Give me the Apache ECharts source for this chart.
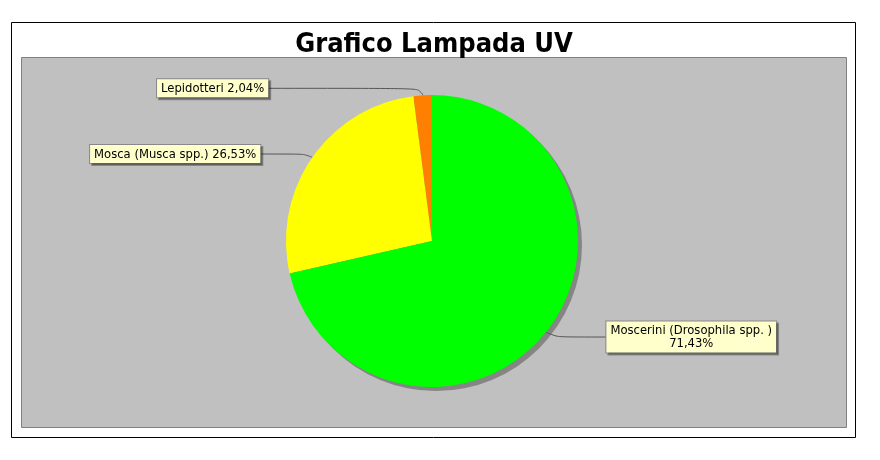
<!DOCTYPE html>
<html><head><meta charset="utf-8">
<script src="https://cdn.jsdelivr.net/npm/echarts@6/dist/echarts.min.js"></script>
<style>html,body{margin:0;padding:0;background:#fff}#c{width:880px;height:460px}</style>
</head><body><div id="c"></div>
<script>
const chartTitle = 'Grafico Lampada UV';
const categories = ['Lepidotteri', 'Mosca (Musca spp.)', 'Moscerini (Drosophila spp. )'];
const percentages = [2.04, 26.53, 71.43];
const sliceColors = ['#FF8000', '#FFFF00', '#00FF00'];
const labelTwoLines = [false, false, true];
// label line styling (radial length, horizontal length)
const lineLen = [7, 6, 8];
const lineLen2 = [154, 47, 54];

const chart = echarts.init(document.getElementById('c'), null, {renderer: 'canvas'});
const fmtPct = p => p.toFixed(2).replace('.', ',');
const pieCenter = [432, 241];
const pieRadius = 146;
const option = {
  animation: false,
  backgroundColor: '#ffffff',
  graphic: [
    {type: 'rect', silent: true, z: -10, shape: {x: 11.5, y: 22.5, width: 844, height: 415},
     style: {fill: '#ffffff', stroke: '#000000', lineWidth: 1}},
    {type: 'rect', silent: true, z: -9, shape: {x: 21.5, y: 57.5, width: 825, height: 370},
     style: {fill: '#C0C0C0', stroke: '#808080', lineWidth: 1}}
  ],
  title: {
    text: chartTitle, left: 434, top: 31, textAlign: 'center', padding: 0,
    textStyle: {fontFamily: 'DejaVu Sans Condensed', fontWeight: 'bold', fontSize: 27, color: '#000'}
  },
  series: [{
    type: 'pie', name: 'shadow',
    center: [pieCenter[0] + 4, pieCenter[1] + 4],
    radius: pieRadius,
    silent: true, z: 1,
    label: {show: false}, labelLine: {show: false},
    itemStyle: {color: '#858585'},
    data: [{name: '', value: 1}]
  }, {
    type: 'pie',
    center: pieCenter,
    radius: pieRadius,
    startAngle: 90,
    clockwise: false,
    avoidLabelOverlap: false,
    silent: true, z: 2,
    data: categories.map((n, i) => ({
      name: n, value: percentages[i],
      itemStyle: {color: sliceColors[i]},
      labelLine: {length: lineLen[i], length2: lineLen2[i]}
    })),
    label: {
      position: 'outside',
      formatter: p => labelTwoLines[p.dataIndex]
        ? '{c|' + p.name + '}\n{c|' + fmtPct(p.percent) + '%}'
        : p.name + ' ' + fmtPct(p.percent) + '%',
      rich: {c: {align: 'center', fontFamily: 'DejaVu Sans', fontSize: 11.6, color: '#000', lineHeight: 13}},
      fontFamily: 'DejaVu Sans', fontSize: 11.6, color: '#000', lineHeight: 13,
      backgroundColor: '#FFFFCC', borderColor: '#888888', borderWidth: 1,
      padding: [3, 4, 2, 4],
      distanceToLabelLine: 0,
      shadowColor: 'rgba(0,0,0,0.3)', shadowOffsetX: 2, shadowOffsetY: 2, shadowBlur: 0
    },
    labelLine: {show: true, smooth: 0.8, lineStyle: {color: '#555555', width: 1}},
    itemStyle: {borderWidth: 0}
  }]
};
chart.setOption(option);
</script></body></html>
